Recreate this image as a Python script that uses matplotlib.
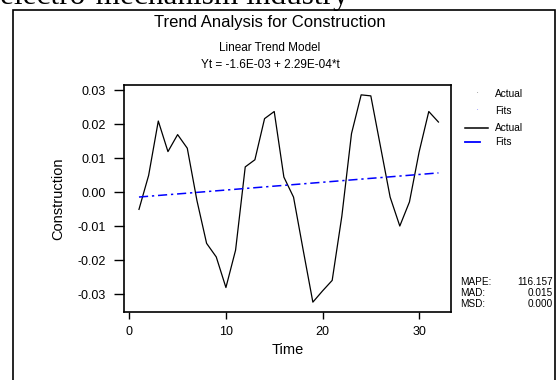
import matplotlib
matplotlib.use("Agg")
import matplotlib.pyplot as plt
from matplotlib.patches import Rectangle

# series
time = list(range(1, 33))
actual = [-0.005, 0.005, 0.021, 0.012, 0.017, 0.013, -0.0024, -0.015,
          -0.019, -0.028, -0.017, 0.0075, 0.0096, 0.0217, 0.0238, 0.0045,
          -0.0014, -0.017, -0.0323, -0.029, -0.0259, -0.007, 0.0173, 0.0287,
          0.0284, 0.0135, -0.0014, -0.0099, -0.0028, 0.0119, 0.0238, 0.0207]
fits = [-0.00137, -0.00114, -0.00091, -0.00068, -0.00046, -0.00023, 0.0, 0.00023,
        0.00046, 0.00069, 0.00092, 0.00115, 0.00138, 0.00161, 0.00184, 0.00206,
        0.00229, 0.00252, 0.00275, 0.00298, 0.00321, 0.00344, 0.00367, 0.0039,
        0.00413, 0.00435, 0.00458, 0.00481, 0.00504, 0.00527, 0.0055, 0.00573]
yticks = [-0.03, -0.02, -0.01, 0.0, 0.01, 0.02, 0.03]
ytick_labels = ["-0.03", "-0.02", "-0.01", "0.00", "0.01", "0.02", "0.03"]
xticks = [0, 10, 20, 30]
stat_names = ["MAPE:", "MAD:", "MSD:"]
stat_values = ["116.157", "0.015", "0.000"]

W, H = 558, 380
plt.rcParams["font.family"] = ["Liberation Sans", "DejaVu Sans"]
fig = plt.figure(figsize=(W / 100, H / 100), dpi=100)


def fx(px):
    return px / W


def fy(py):
    return 1 - py / H


# outer frame of the embedded graph
fig.add_artist(Rectangle((fx(13), fy(400)), fx(555) - fx(13), fy(10) - fy(400),
                         transform=fig.transFigure, fill=False, lw=1.2, ec="black"))

# clipped caption text from the document above
fig.text(fx(0), fy(4), "electro-mechanism industry", family="Liberation Serif",
         fontsize=22.5, ha="left", va="baseline")

ax = fig.add_axes([fx(124), fy(312), fx(451) - fx(124), fy(85) - fy(312)])
ax.plot(time, actual, color="black", lw=0.9)
ax.plot(time, fits, color="#0000ff", lw=1.1, linestyle=(0, (6, 2.5, 1.5, 2.5)))

ax.set_xlim(-0.55, 33.3)
ax.set_ylim(-0.0352, 0.0316)
ax.set_yticks(yticks)
ax.set_yticklabels(ytick_labels)
ax.set_xticks(xticks)
ax.tick_params(axis="y", direction="out", length=7.5, width=1, labelsize=9, pad=5.5)
ax.tick_params(axis="x", direction="out", length=5, width=1, labelsize=9, pad=5)
for s in ax.spines.values():
    s.set_linewidth(1.2)
ax.set_ylabel("Construction", fontsize=10.5, va="center")
ax.set_xlabel("Time", fontsize=10.5, va="center")
ax.yaxis.set_label_coords((58 - 124) / (451 - 124), 0.5)
ax.xaxis.set_label_coords(0.5, -(350 - 312) / (312 - 85))

fig.text(fx(270), fy(22), "Trend Analysis for Construction", fontsize=12,
         ha="center", va="center")
fig.text(fx(270), fy(48), "Linear Trend Model", fontsize=8.5, ha="center", va="center")
fig.text(fx(270), fy(65), "Yt = -1.6E-03 + 2.29E-04*t", fontsize=8.5, ha="center",
         va="center")

# legend
fig.text(fx(477), fy(94), ".", fontsize=4, ha="center", va="bottom")
fig.text(fx(477), fy(111), ".", fontsize=4, ha="center", va="bottom", color="#0000ff")
fig.add_artist(plt.Line2D([fx(465), fx(488)], [fy(128), fy(128)], color="black", lw=1.1))
fig.add_artist(plt.Line2D([fx(465), fx(480)], [fy(142), fy(142)], color="#0000ff", lw=1.3))
for yy, lab in zip([94, 111, 128, 142], ["Actual", "Fits", "Actual", "Fits"]):
    fig.text(fx(495), fy(yy), lab, fontsize=7.3, ha="left", va="center")

# accuracy measures
for i, (n, v) in enumerate(zip(stat_names, stat_values)):
    yy = 282 + i * 11.2
    fig.text(fx(460), fy(yy), n, fontsize=7.2, ha="left", va="center")
    fig.text(fx(552.5), fy(yy), v, fontsize=7.2, ha="right", va="center")

fig.savefig("out.png", dpi=100)
